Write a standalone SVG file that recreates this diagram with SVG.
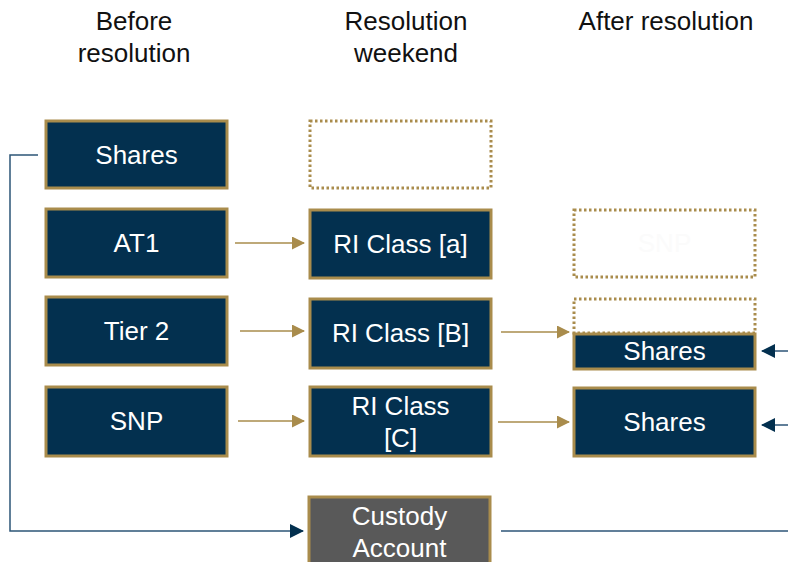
<svg xmlns="http://www.w3.org/2000/svg" width="788" height="562" viewBox="0 0 788 562">
<defs>
<style>
.hdr{font-family:"Liberation Sans",Arial,sans-serif;font-size:26px;fill:#111;text-anchor:middle}
.box{fill:#03304f;stroke:#a98c4c;stroke-width:3}
.gray{fill:#595959;stroke:#a98c4c;stroke-width:3}
.dot{fill:none;stroke:#a98c4c;stroke-width:3;stroke-dasharray:2.5 2.5}
.t{font-family:"Liberation Sans",Arial,sans-serif;font-size:26px;fill:#fff;text-anchor:middle}
.ghost{font-family:"Liberation Sans",Arial,sans-serif;font-size:26px;fill:#fbfbfb;text-anchor:middle}
.gold{stroke:#a98c4c;stroke-width:1.5;fill:none}
.navy{stroke:#2d5577;stroke-width:1.5;fill:none}
</style>
<marker id="ag" markerWidth="13" markerHeight="13" refX="12" refY="6.5" orient="auto" markerUnits="userSpaceOnUse" viewBox="0 0 13 13">
<path d="M0,0 L13,6.5 L0,13 z" fill="#a98c4c"/>
</marker>
<marker id="an" markerWidth="14" markerHeight="14" refX="13" refY="7" orient="auto" markerUnits="userSpaceOnUse" viewBox="0 0 14 14">
<path d="M0,0 L14,7 L0,14 z" fill="#03304f"/>
</marker>
</defs>
<rect width="788" height="562" fill="#fff"/>
<g id="headers">
<text class="hdr" x="134" y="30">Before</text>
<text class="hdr" x="134" y="62">resolution</text>
<text class="hdr" x="406" y="30">Resolution</text>
<text class="hdr" x="406" y="62">weekend</text>
<text class="hdr" x="666" y="30">After resolution</text>
</g>
<g id="connectors">
<line class="gold" x1="235" y1="243" x2="304" y2="243" marker-end="url(#ag)"/>
<line class="gold" x1="240" y1="331" x2="304" y2="331" marker-end="url(#ag)"/>
<line class="gold" x1="238" y1="421" x2="304" y2="421" marker-end="url(#ag)"/>
<line class="gold" x1="501" y1="332" x2="569" y2="332" marker-end="url(#ag)"/>
<line class="gold" x1="498" y1="422" x2="569" y2="422" marker-end="url(#ag)"/>
<line class="navy" x1="788" y1="351" x2="762" y2="351" marker-end="url(#an)"/>
<line class="navy" x1="788" y1="425" x2="762" y2="425" marker-end="url(#an)"/>
<polyline class="navy" points="38,155 10,155 10,531 303,531" marker-end="url(#an)"/>
<line class="navy" x1="501" y1="531" x2="788" y2="531"/>
</g>
<g id="n-shares-before"><rect class="box" x="46" y="121" width="181" height="67"/><text class="t" x="136.5" y="164">Shares</text></g>
<g id="n-at1"><rect class="box" x="46" y="209" width="181" height="68"/><text class="t" x="136.5" y="252">AT1</text></g>
<g id="n-tier2"><rect class="box" x="46" y="297" width="181" height="68"/><text class="t" x="136.5" y="340">Tier 2</text></g>
<g id="n-snp"><rect class="box" x="46" y="387" width="181" height="69"/><text class="t" x="136.5" y="430">SNP</text></g>
<g id="n-empty-weekend"><rect class="dot" x="310" y="121" width="181" height="67"/></g>
<g id="n-ri-a"><rect class="box" x="310" y="210" width="181" height="68"/><text class="t" x="400.5" y="253">RI Class [a]</text></g>
<g id="n-ri-b"><rect class="box" x="310" y="299" width="181" height="69"/><text class="t" x="400.5" y="342">RI Class [B]</text></g>
<g id="n-ri-c"><rect class="box" x="310" y="387" width="181" height="69"/><text class="t" x="400.5" y="415">RI Class</text><text class="t" x="400.5" y="447">[C]</text></g>
<g id="n-custody"><rect class="gray" x="309" y="497" width="181" height="75"/><text class="t" x="399.5" y="525">Custody</text><text class="t" x="399.5" y="557">Account</text></g>
<g id="n-ghost"><rect class="dot" x="574" y="210" width="181" height="67"/><text class="ghost" x="664.5" y="252">SNP</text></g>
<g id="n-dotted-top"><rect class="dot" x="574" y="299" width="181" height="34"/></g>
<g id="n-shares-b"><rect class="box" x="574" y="334" width="181" height="35"/><text class="t" x="664.5" y="360">Shares</text></g>
<g id="n-shares-c"><rect class="box" x="574" y="388" width="181" height="68"/><text class="t" x="664.5" y="431">Shares</text></g>
</svg>
